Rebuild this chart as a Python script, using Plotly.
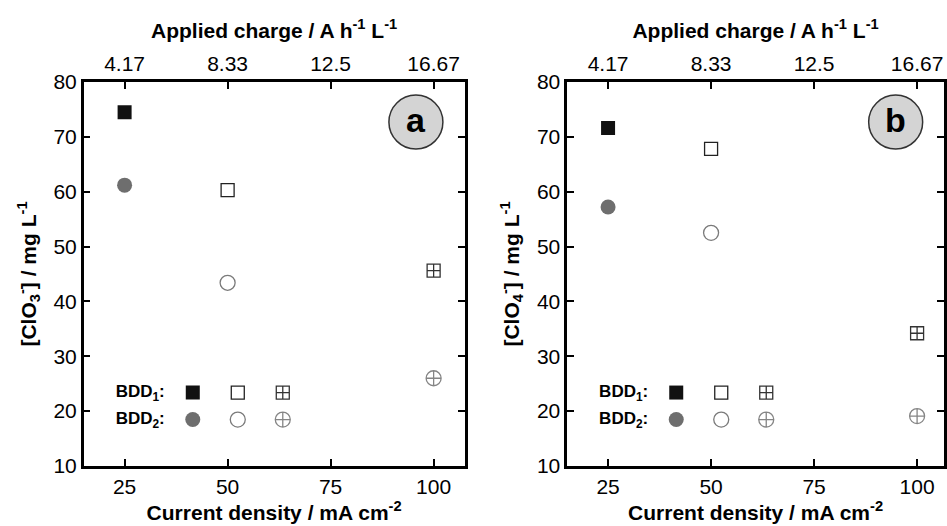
import plotly.graph_objects as go

# ---- data ----
current_density = [25, 50, 100]
charge_tick_vals = [25, 50, 75, 100]
charge_tick_text = ["4.17", "8.33", "12.5", "16.67"]
clo3_bdd1 = [74.5, 60.3, 45.6]
clo3_bdd2 = [61.2, 43.4, 26.0]
clo4_bdd1 = [71.6, 67.8, 34.2]
clo4_bdd2 = [57.2, 52.5, 19.1]

FONT = "Liberation Sans, Arial, sans-serif"

bdd1_styles = [
    dict(symbol="square", size=14, color="#111111", line=dict(width=0)),
    dict(symbol="square-open", size=13, color="#222222", line=dict(width=1.3)),
    dict(symbol="square-cross-open", size=13, color="#333333", line=dict(width=1.3)),
]
bdd2_styles = [
    dict(symbol="circle", size=15, color="#6e6e6e", line=dict(width=0)),
    dict(symbol="circle-open", size=15, color="#7a7a7a", line=dict(width=1.3)),
    dict(symbol="circle-cross-open", size=15, color="#858585", line=dict(width=1.3)),
]

fig = go.Figure()

# BDD1 series are drawn on the top (charge) axis, BDD2 on the bottom one;
# both share the identical range so the positions coincide.
panels = [
    ("x", "x3", "y", clo3_bdd1, clo3_bdd2, "legend", "legend2"),
    ("x2", "x4", "y2", clo4_bdd1, clo4_bdd2, "legend3", "legend4"),
]
for xb, xt_, ya, s1, s2, lg1, lg2 in panels:
    for i, xv in enumerate(current_density):
        fig.add_trace(go.Scatter(x=[xv], y=[s1[i]], mode="markers", name="",
                                 marker=bdd1_styles[i], xaxis=xt_, yaxis=ya,
                                 legend=lg1, showlegend=True))
    for i, xv in enumerate(current_density):
        fig.add_trace(go.Scatter(x=[xv], y=[s2[i]], mode="markers", name="",
                                 marker=bdd2_styles[i], xaxis=xb, yaxis=ya,
                                 legend=lg2, showlegend=True))

W, H = 947, 526
dom_a = [84 / W, 466 / W]
dom_b = [569 / W, 1.0]
xr_a = [15.08, 107.5]
xr_b = [15.08, 106.53]

axis_common = dict(
    showline=True, linewidth=2.5, linecolor="black",
    ticks="inside", ticklen=7, tickwidth=2, tickcolor="black",
    showgrid=False, zeroline=False,
    tickfont=dict(family=FONT, size=21, color="black"),
)

xt = "<b>Current density / mA cm<sup>-2</sup></b>"
tt = "<b>Applied charge / A h<sup>-1</sup> L<sup>-1</sup></b>"
title_font = dict(family=FONT, size=21, color="black")

fig.update_layout(
    width=W, height=H,
    margin=dict(l=0, r=0, t=82, b=60),
    paper_bgcolor="white", plot_bgcolor="white",
    font=dict(family=FONT, color="black"),
    xaxis=dict(domain=dom_a, range=xr_a, tickvals=charge_tick_vals,
               anchor="y", title=dict(text=xt, font=title_font, standoff=4), **axis_common),
    xaxis2=dict(domain=dom_b, range=xr_b, tickvals=charge_tick_vals,
                anchor="y2", title=dict(text=xt, font=title_font, standoff=4), **axis_common),
    xaxis3=dict(domain=dom_a, range=xr_a, overlaying="x", side="top", anchor="y",
                tickvals=charge_tick_vals, ticktext=charge_tick_text,
                title=dict(text=tt, font=title_font, standoff=8), **axis_common),
    xaxis4=dict(domain=dom_b, range=xr_b, overlaying="x2", side="top", anchor="y2",
                tickvals=charge_tick_vals, ticktext=charge_tick_text,
                title=dict(text=tt, font=title_font, standoff=8), **axis_common),
    yaxis=dict(domain=[0, 1], range=[10, 80], dtick=10, anchor="x", mirror="ticks",
               title=dict(text="<b>[ClO<sub>3</sub><sup>-</sup>] / mg L<sup>-1</sup></b>",
                          font=title_font, standoff=12), **axis_common),
    yaxis2=dict(domain=[0, 1], range=[10, 80], dtick=10, anchor="x2", mirror="ticks",
                title=dict(text="<b>[ClO<sub>4</sub><sup>-</sup>] / mg L<sup>-1</sup></b>",
                           font=title_font, standoff=12), **axis_common),
)

leg_common = dict(orientation="h", bgcolor="rgba(0,0,0,0)", borderwidth=0,
                  font=dict(family=FONT, size=17, color="black"),
                  xanchor="left", yanchor="middle", traceorder="normal",
                  itemwidth=30, tracegroupgap=0)
y_row1 = (466 - 393) / 384
y_row2 = (466 - 420) / 384
leg_title_font = dict(family=FONT, size=17, color="black")
fig.update_layout(
    legend=dict(x=114 / W, y=y_row1,
                title=dict(text="<b>BDD<sub>1</sub>:</b>", side="left", font=leg_title_font),
                **leg_common),
    legend2=dict(x=114 / W, y=y_row2,
                 title=dict(text="<b>BDD<sub>2</sub>:</b>", side="left", font=leg_title_font),
                 **leg_common),
    legend3=dict(x=599 / W, y=y_row1,
                 title=dict(text="<b>BDD<sub>1</sub>:</b>", side="left", font=leg_title_font),
                 **leg_common),
    legend4=dict(x=599 / W, y=y_row2,
                 title=dict(text="<b>BDD<sub>2</sub>:</b>", side="left", font=leg_title_font),
                 **leg_common),
)

# panel label badges
for xa, ya, cx, lab in [("x", "y", 95.7, "a"), ("x2", "y2", 94.8, "b")]:
    fig.add_shape(type="circle", xref=xa, yref=ya, xsizemode="pixel", ysizemode="pixel",
                  xanchor=cx, yanchor=72.7, x0=-27, x1=27, y0=-27, y1=27,
                  fillcolor="#d4d4d4", line=dict(color="#333333", width=1.5), layer="above")
    fig.add_annotation(x=cx, y=72.7, xref=xa, yref=ya, text="<b>%s</b>" % lab,
                       showarrow=False, font=dict(family=FONT, size=34, color="black"),
                       xanchor="center", yanchor="middle", yshift=2)

fig.write_html("out.html")
